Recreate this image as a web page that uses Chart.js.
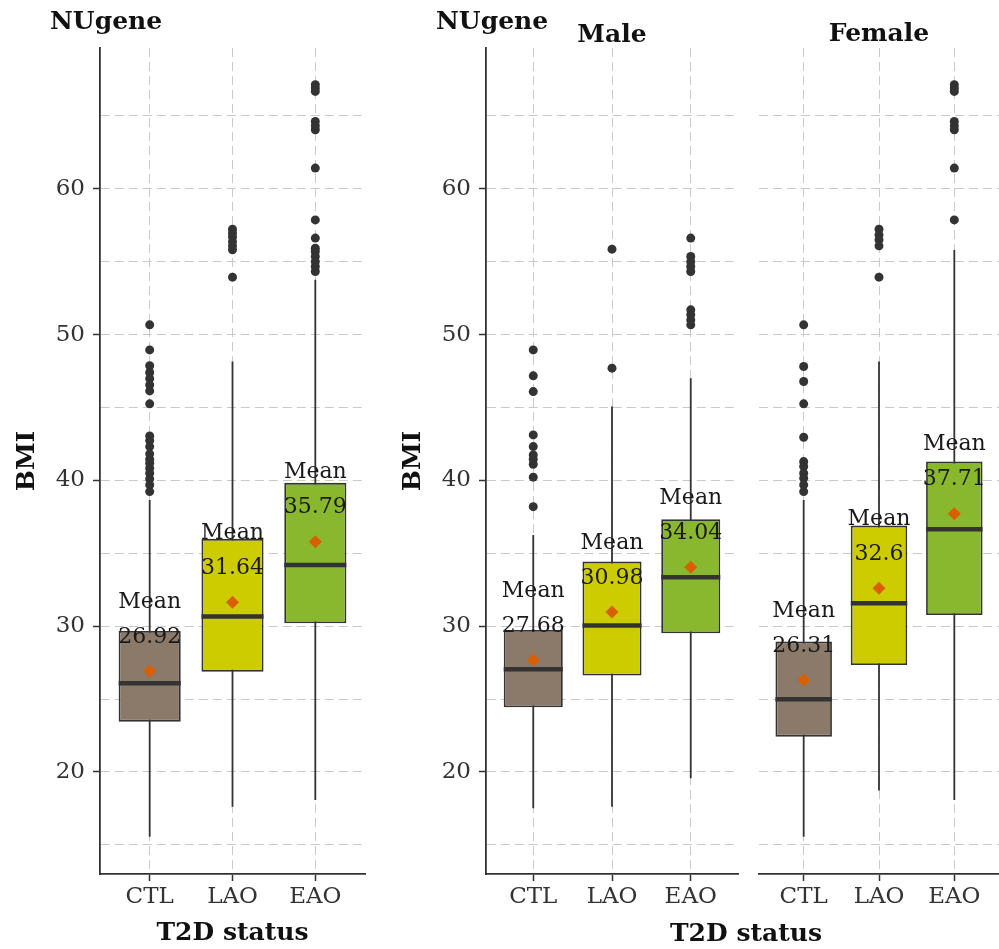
<!DOCTYPE html>
<html>
<head>
<meta charset="utf-8">
<title>BMI by T2D status - NUgene</title>
<script src="https://cdn.jsdelivr.net/npm/chart.js@4.4.1/dist/chart.umd.min.js"></script>
<style>
  html, body { margin: 0; padding: 0; background: #fff; overflow: hidden; width: 999px; height: 949px; }
  canvas { position: absolute; top: 0; }
  #allChart { left: 0; }
  #maleChart { left: 386px; }
  #femaleChart { left: 752px; }
</style>
</head>
<body>
<canvas id="allChart" width="380" height="949"></canvas>
<canvas id="maleChart" width="620" height="949"></canvas>
<canvas id="femaleChart" width="254" height="949"></canvas>
<script>
"use strict";

// Categories and y ticks
const groups = ['CTL', 'LAO', 'EAO'];
const yTicks = [15, 20, 25, 30, 35, 40, 45, 50, 55, 60, 65];

// NUgene, all subjects
const allLow = [15.56, 17.62, 18.08];
const allQ1 = [23.45, 26.88, 30.20];
const allMedian = [26.08, 30.66, 34.20];
const allQ3 = [29.67, 35.99, 39.83];
const allHigh = [38.66, 48.15, 53.76];
const allMean = [26.92, 31.64, 35.79];
const allOutCTL = [50.67, 48.95, 47.86, 47.40, 46.98, 46.55, 46.14, 45.25, 43.05, 42.73, 42.32, 41.82, 41.45, 41.18, 40.84, 40.49, 40.10, 39.69, 39.23];
const allOutLAO = [57.23, 56.96, 56.69, 56.38, 56.09, 55.82, 53.94];
const allOutEAO = [67.14, 66.91, 66.68, 64.62, 64.32, 64.05, 61.42, 57.87, 56.62, 55.93, 55.70, 55.36, 55.01, 54.67, 54.33];

// Male
const maleLow = [17.51, 17.62, 19.57];
const maleQ1 = [24.44, 26.61, 29.51];
const maleMedian = [27.04, 30.05, 33.36];
const maleQ3 = [29.74, 34.43, 37.34];
const maleHigh = [36.26, 45.07, 47.01];
const maleMean = [27.68, 30.98, 34.04];
const maleOutCTL = [48.95, 47.17, 46.09, 43.12, 42.32, 41.75, 41.45, 41.11, 40.22, 38.20];
const maleOutLAO = [55.86, 47.70];
const maleOutEAO = [56.62, 55.36, 55.01, 54.67, 54.33, 51.70, 51.36, 51.01, 50.67];

// Female
const femaleLow = [15.56, 18.72, 18.08];
const femaleQ1 = [22.42, 27.34, 30.77];
const femaleMedian = [24.99, 31.57, 36.65];
const femaleQ3 = [28.94, 36.90, 41.29];
const femaleHigh = [38.66, 48.15, 55.81];
const femaleMean = [26.31, 32.60, 37.71];
const femaleOutCTL = [50.67, 47.81, 46.78, 45.25, 42.96, 41.29, 40.95, 40.49, 40.15, 39.69, 39.23];
const femaleOutLAO = [57.23, 56.84, 56.50, 56.09, 53.94];
const femaleOutEAO = [67.14, 66.91, 66.68, 64.62, 64.32, 64.05, 61.42, 57.87];

// Styles
const boxFill = ['#8b7a69', '#cccc00', '#89b82f'];
const dark = '#333333';
const meanColor = '#d95f02';
const gridColor = '#c9c9c9';

Chart.defaults.font.family = "'DejaVu Serif', serif";
Chart.defaults.color = dark;
Chart.defaults.animation = false;

// "Mean / value" labels above each mean point
const meanLabels = {
    id: 'meanLabels',
    afterDatasetsDraw(chart, args, opts) {
        const {ctx, scales: {x, y}} = chart;
        ctx.save();
        ctx.font = "22px 'DejaVu Serif'";
        ctx.fillStyle = '#1a1a1a';
        ctx.textAlign = 'center';
        ctx.textBaseline = 'middle';
        opts.means.forEach((m, i) => {
            const px = x.getPixelForValue(i);
            const py = y.getPixelForValue(m + 3.57);
            ctx.fillText('Mean', px, py - 17);
            ctx.fillText(String(m), px, py + 18);
        });
        ctx.restore();
    }
};

// panel titles / strip labels
const panelText = {
    id: 'panelText',
    afterDraw(chart, args, opts) {
        const ctx = chart.ctx;
        ctx.save();
        ctx.fillStyle = '#111';
        ctx.textBaseline = 'middle';
        (opts.items || []).forEach(t => {
            ctx.font = "bold " + t.size + "px 'DejaVu Serif'";
            ctx.textAlign = t.align;
            ctx.fillText(t.text, t.x, t.y);
        });
        ctx.restore();
    }
};

function boxDatasets(low, q1, med, q3, high, mean, outliers) {
    const ds = [];
    groups.forEach((g, i) => {
        ds.push({
            type: 'line', data: [{x: i, y: low[i]}, {x: i, y: high[i]}],
            borderColor: dark, borderWidth: 1.8, pointRadius: 0, order: 5
        });
    });
    ds.push({
        type: 'bar',
        data: groups.map((g, i) => ({x: i, y: [q1[i], q3[i]]})),
        backgroundColor: boxFill, borderColor: dark, borderWidth: 1.8,
        borderSkipped: false, grouped: false,
        barPercentage: 0.75, categoryPercentage: 1, order: 4
    });
    groups.forEach((g, i) => {
        ds.push({
            type: 'line', data: [{x: i - 0.375, y: med[i]}, {x: i + 0.375, y: med[i]}],
            borderColor: dark, borderWidth: 4.5, pointRadius: 0, order: 3
        });
    });
    ds.push({
        type: 'scatter',
        data: outliers.flatMap((vals, i) => vals.map(v => ({x: i, y: v}))),
        backgroundColor: dark, borderWidth: 0, pointRadius: 4.5, order: 2
    });
    ds.push({
        type: 'scatter',
        data: mean.map((v, i) => ({x: i, y: v})),
        pointStyle: 'rectRot', backgroundColor: meanColor, borderWidth: 0,
        pointRadius: 6.5, order: 1
    });
    return ds;
}

function makeScales(showY, xTitle) {
    return {
        x: {
            type: 'linear', min: -0.6, max: 2.6, offset: false,
            afterBuildTicks: s => { s.ticks = groups.map((g, i) => ({value: i})); },
            afterFit: s => { s.height = 75; },
            ticks: { callback: v => groups[v], font: {size: 23}, color: dark, padding: 2, maxRotation: 0, autoSkip: false },
            grid: { offset: false, color: gridColor, lineWidth: 1, tickColor: dark, tickLength: 7, tickWidth: 1.5 },
            border: { display: true, color: dark, width: 1.8, dash: [9, 5] },
            title: { display: xTitle, text: 'T2D status', color: '#111', font: {size: 25, weight: 'bold'}, padding: {top: 0, bottom: 1} }
        },
        y: {
            type: 'linear', min: 13.0, max: 69.66,
            afterBuildTicks: s => { s.ticks = yTicks.map(v => ({value: v})); },
            afterFit: s => { s.width = showY ? 100 : 0; },
            ticks: { display: showY, callback: v => (v % 10 === 0 ? String(v) : ''), font: {size: 23}, color: dark, padding: 8 },
            grid: {
                color: gridColor, lineWidth: 1, drawTicks: showY, tickLength: 7, tickWidth: 1.5,
                tickColor: c => (c.tick && c.tick.value % 10 === 0 ? dark : 'rgba(0,0,0,0)')
            },
            border: { display: showY, color: dark, width: 1.8, dash: [9, 5] },
            title: { display: showY, text: 'BMI', color: '#111', font: {size: 25, weight: 'bold'}, padding: {top: 12, bottom: 0} }
        }
    };
}

function makeChart(id, datasets, means, scales, padRight, texts) {
    return new Chart(document.getElementById(id), {
        type: 'bar',
        data: { datasets: datasets },
        options: {
            responsive: false,
            layout: { padding: { top: 48, right: padRight, left: 0, bottom: 0 } },
            scales: scales,
            plugins: {
                legend: { display: false },
                tooltip: { enabled: false },
                meanLabels: { means: means },
                panelText: { items: texts }
            }
        },
        plugins: [meanLabels, panelText]
    });
}

// NUgene overall
makeChart('allChart',
    boxDatasets(allLow, allQ1, allMedian, allQ3, allHigh, allMean, [allOutCTL, allOutLAO, allOutEAO]),
    allMean, makeScales(true, true), 15,
    [{text: 'NUgene', x: 50, y: 22, align: 'left', size: 25}]);

// Male facet
makeChart('maleChart',
    boxDatasets(maleLow, maleQ1, maleMedian, maleQ3, maleHigh, maleMean, [maleOutCTL, maleOutLAO, maleOutEAO]),
    maleMean, makeScales(true, false), 268,
    [{text: 'NUgene', x: 50, y: 22, align: 'left', size: 25},
     {text: 'Male', x: 226, y: 35, align: 'center', size: 25},
     {text: 'T2D status', x: 360, y: 934, align: 'center', size: 25}]);

// Female facet
makeChart('femaleChart',
    boxDatasets(femaleLow, femaleQ1, femaleMedian, femaleQ3, femaleHigh, femaleMean, [femaleOutCTL, femaleOutLAO, femaleOutEAO]),
    femaleMean, makeScales(false, false), 0,
    [{text: 'Female', x: 127, y: 34, align: 'center', size: 25}]);
</script>
</body>
</html>
